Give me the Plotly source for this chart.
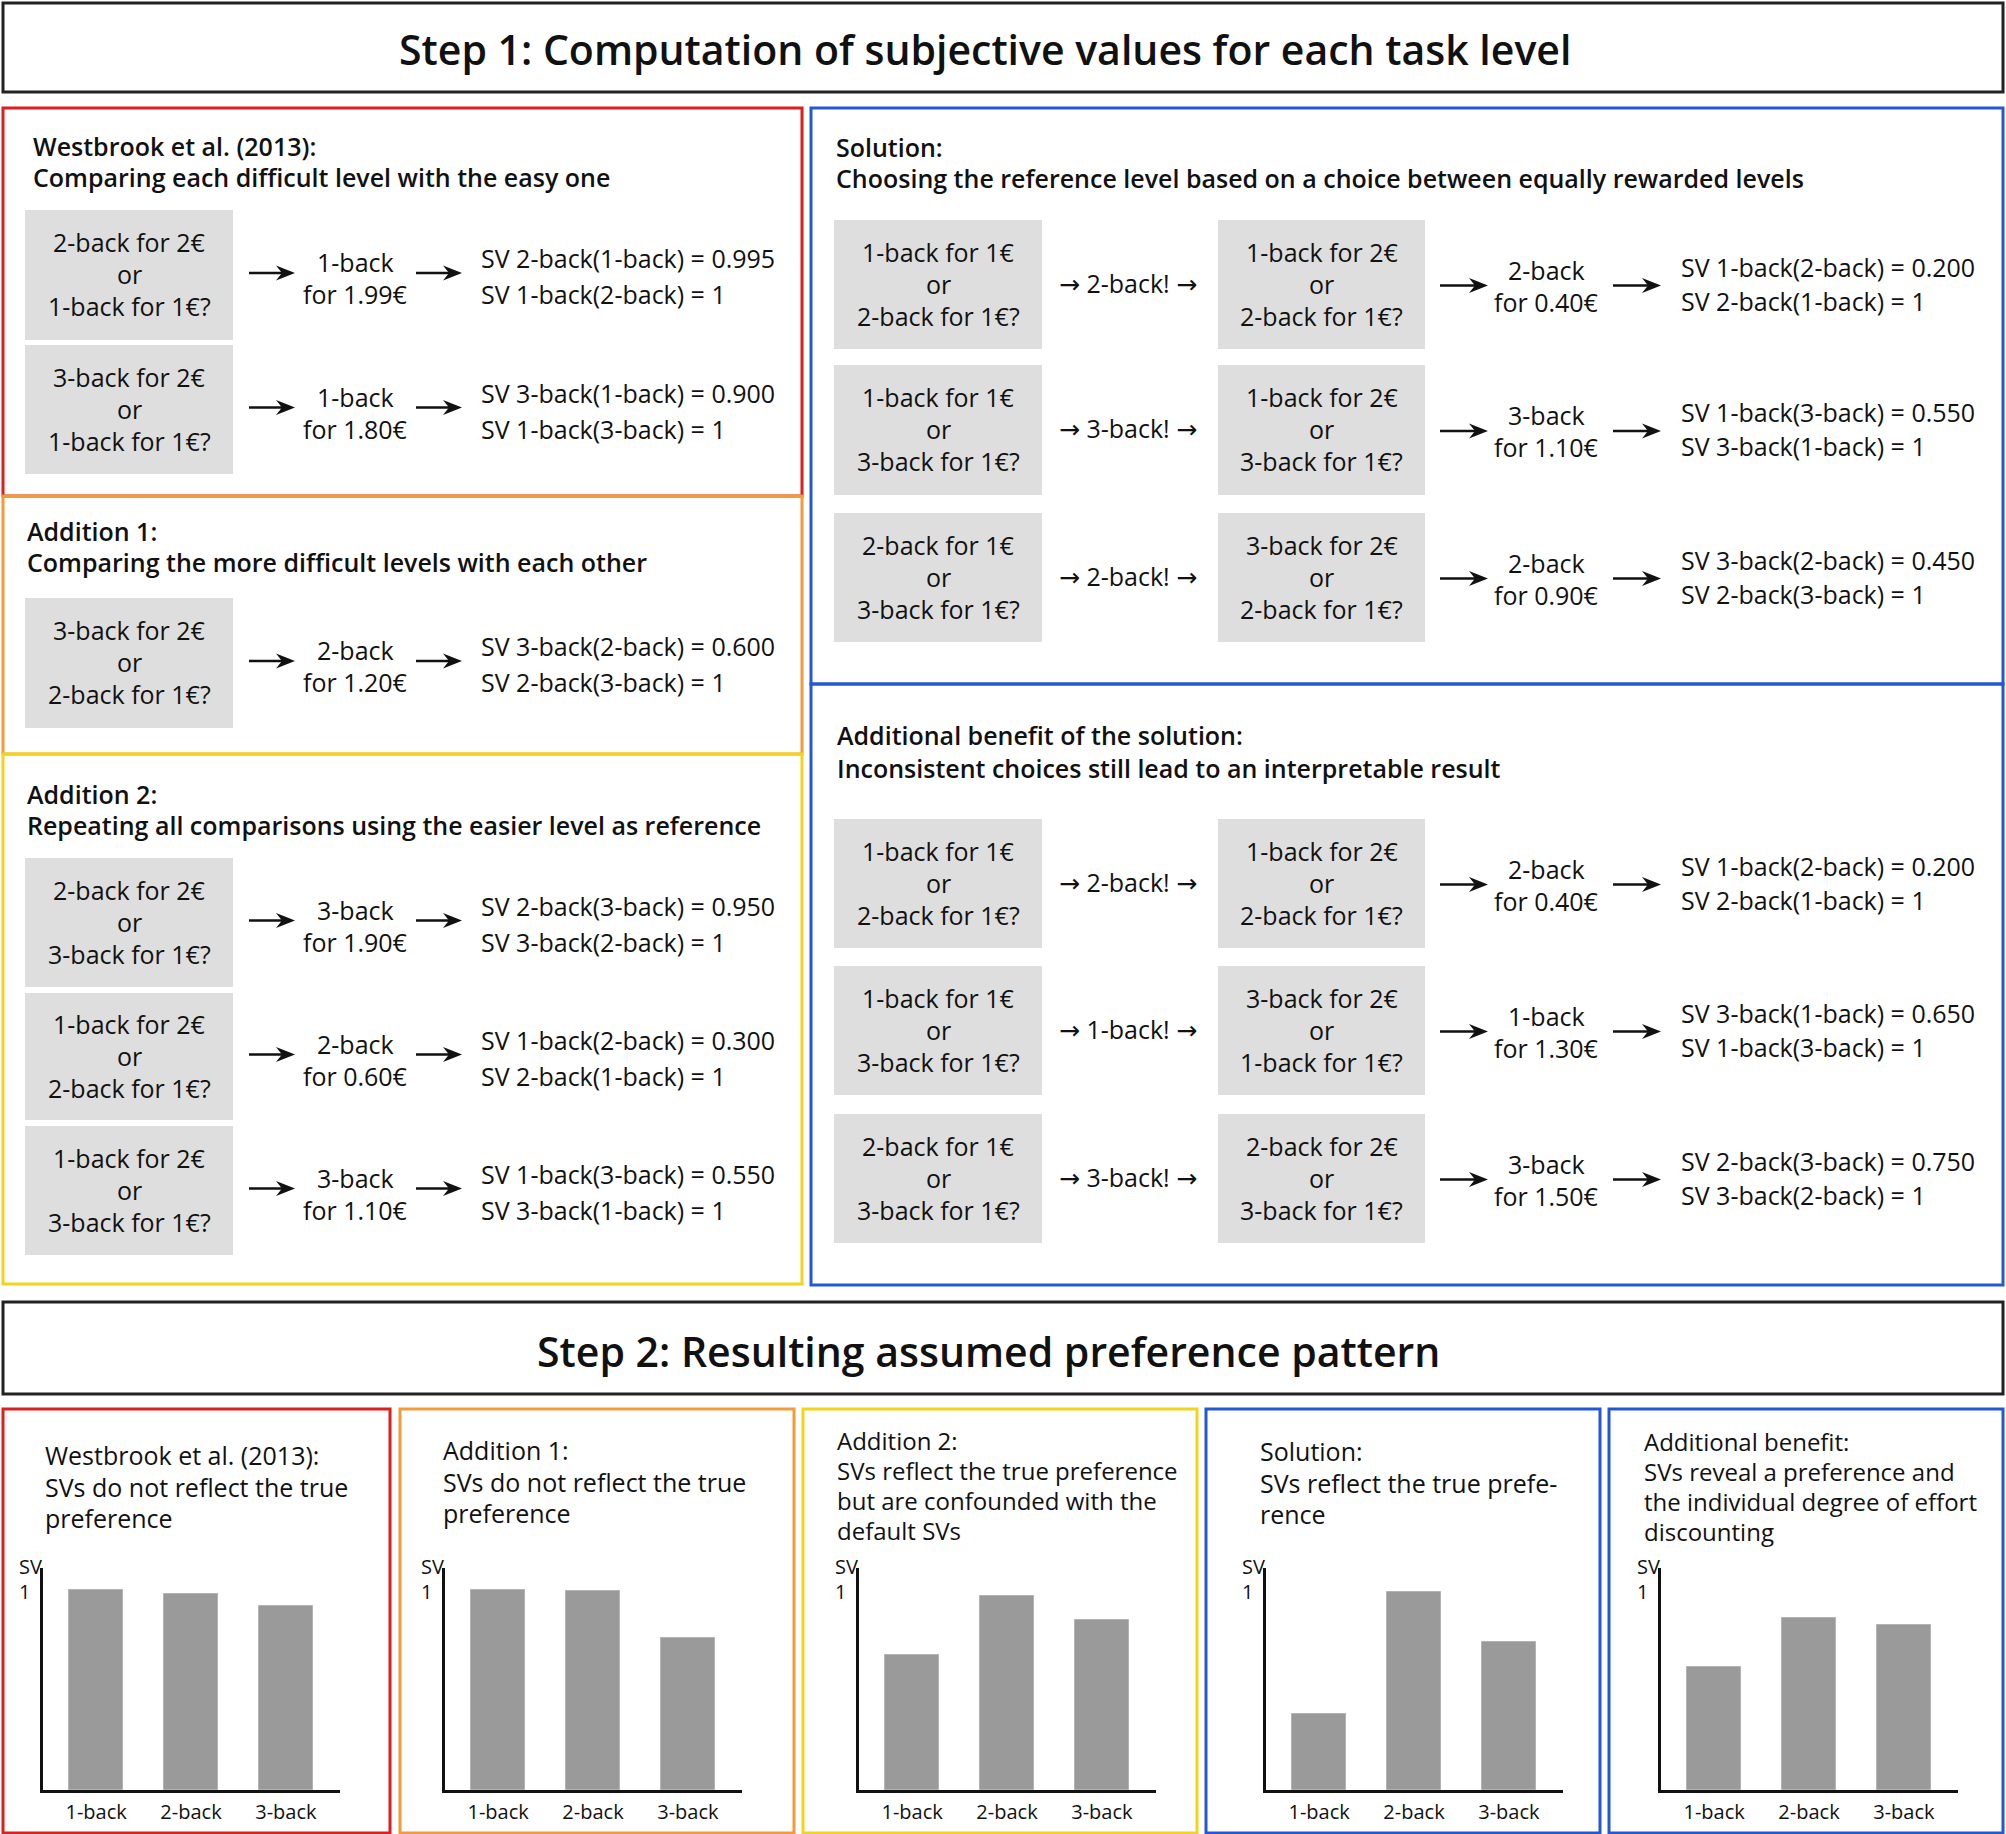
import plotly.graph_objects as go

W, H = 2006, 1834

# ------------------------------------------------------------------ data
levels = ["1-back", "2-back", "3-back"]

step1_title = "Step 1: Computation of subjective values for each task level"
step2_title = "Step 2: Resulting assumed preference pattern"

section_headers = [
    ["Westbrook et al. (2013):", "Comparing each difficult level with the easy one"],
    ["Addition 1:", "Comparing the more difficult levels with each other"],
    ["Addition 2:", "Repeating all comparisons using the easier level as reference"],
    ["Solution:", "Choosing the reference level based on a choice between equally rewarded levels"],
    ["Additional benefit of the solution:", "Inconsistent choices still lead to an interpretable result"],
]

# left column rows: question, result, subjective values
left_questions = [
    ["2-back for 2€", "or", "1-back for 1€?"],
    ["3-back for 2€", "or", "1-back for 1€?"],
    ["3-back for 2€", "or", "2-back for 1€?"],
    ["2-back for 2€", "or", "3-back for 1€?"],
    ["1-back for 2€", "or", "2-back for 1€?"],
    ["1-back for 2€", "or", "3-back for 1€?"],
]
left_results = [
    ["1-back", "for 1.99€"], ["1-back", "for 1.80€"], ["2-back", "for 1.20€"],
    ["3-back", "for 1.90€"], ["2-back", "for 0.60€"], ["3-back", "for 1.10€"],
]
left_svs = [
    ["SV 2-back(1-back) = 0.995", "SV 1-back(2-back) = 1"],
    ["SV 3-back(1-back) = 0.900", "SV 1-back(3-back) = 1"],
    ["SV 3-back(2-back) = 0.600", "SV 2-back(3-back) = 1"],
    ["SV 2-back(3-back) = 0.950", "SV 3-back(2-back) = 1"],
    ["SV 1-back(2-back) = 0.300", "SV 2-back(1-back) = 1"],
    ["SV 1-back(3-back) = 0.550", "SV 3-back(1-back) = 1"],
]

# right column rows
right_first_questions = [
    ["1-back for 1€", "or", "2-back for 1€?"],
    ["1-back for 1€", "or", "3-back for 1€?"],
    ["2-back for 1€", "or", "3-back for 1€?"],
    ["1-back for 1€", "or", "2-back for 1€?"],
    ["1-back for 1€", "or", "3-back for 1€?"],
    ["2-back for 1€", "or", "3-back for 1€?"],
]
right_choices = ["2-back!", "3-back!", "2-back!", "2-back!", "1-back!", "3-back!"]
right_second_questions = [
    ["1-back for 2€", "or", "2-back for 1€?"],
    ["1-back for 2€", "or", "3-back for 1€?"],
    ["3-back for 2€", "or", "2-back for 1€?"],
    ["1-back for 2€", "or", "2-back for 1€?"],
    ["3-back for 2€", "or", "1-back for 1€?"],
    ["2-back for 2€", "or", "3-back for 1€?"],
]
right_results = [
    ["2-back", "for 0.40€"], ["3-back", "for 1.10€"], ["2-back", "for 0.90€"],
    ["2-back", "for 0.40€"], ["1-back", "for 1.30€"], ["3-back", "for 1.50€"],
]
right_svs = [
    ["SV 1-back(2-back) = 0.200", "SV 2-back(1-back) = 1"],
    ["SV 1-back(3-back) = 0.550", "SV 3-back(1-back) = 1"],
    ["SV 3-back(2-back) = 0.450", "SV 2-back(3-back) = 1"],
    ["SV 1-back(2-back) = 0.200", "SV 2-back(1-back) = 1"],
    ["SV 3-back(1-back) = 0.650", "SV 1-back(3-back) = 1"],
    ["SV 2-back(3-back) = 0.750", "SV 3-back(2-back) = 1"],
]

# Step 2 panels
panel_titles = [
    ["Westbrook et al. (2013):", "SVs do not reflect the true", "preference"],
    ["Addition 1:", "SVs do not reflect the true", "preference"],
    ["Addition 2:", "SVs reflect the true preference", "but are confounded with the", "default SVs"],
    ["Solution:", "SVs reflect the true prefe-", "rence"],
    ["Additional benefit:", "SVs reveal a preference and", "the individual degree of effort", "discounting"],
]
sv_westbrook = [1.0, 0.98, 0.92]
sv_addition1 = [1.0, 0.995, 0.76]
sv_addition2 = [0.675, 0.97, 0.85]
sv_solution = [0.38, 0.99, 0.74]
sv_benefit = [0.615, 0.86, 0.825]
panel_values = [sv_westbrook, sv_addition1, sv_addition2, sv_solution, sv_benefit]

# ------------------------------------------------------------------ styles / layout constants
RED, ORANGE, YELLOW, BLUE = "#dc1f1f", "#f39a3a", "#f2d31e", "#2257d8"
BOXGRAY, BARGRAY, INK = "#dedede", "#9a9a9a", "#111111"
FONT = "Open Sans"
FS = 25

shapes, annotations = [], []


def rect(x0, y0, x1, y1, line=None, fill=None, lw=3, layer="above"):
    shapes.append(dict(type="rect", xref="x", yref="y", x0=x0, y0=y0, x1=x1, y1=y1,
                       line=dict(color=line or "rgba(0,0,0,0)", width=lw if line else 0),
                       fillcolor=fill or "rgba(0,0,0,0)", layer=layer))


def text(x, y, s, size=FS, anchor="center", weight=400):
    annotations.append(dict(x=x, y=y, xref="x", yref="y", text=s, showarrow=False,
                            xanchor=anchor, yanchor="middle",
                            font=dict(family=FONT, size=size, color=INK, weight=weight)))


def arrow(x0, x1, y):
    shapes.append(dict(type="line", xref="x", yref="y", x0=x0, x1=x1 - 10, y0=y, y1=y,
                       line=dict(color=INK, width=2.5)))
    shapes.append(dict(type="path", xref="x", yref="y",
                       path=f"M {x1},{y} L {x1-19},{y-7.5} L {x1-13},{y} L {x1-19},{y+7.5} Z",
                       fillcolor=INK, line=dict(width=0)))


def question(x0, x1, y0, y1, lines):
    rect(x0, y0, x1, y1, fill=BOXGRAY, layer="below")
    cx, cy = (x0 + x1) / 2, (y0 + y1) / 2
    for i, s in enumerate(lines):
        text(cx, cy - 1 + (i - 1) * 32, s)


ARR = '<span style="font-family:DejaVu Sans">→</span>'

# Step title boxes
rect(3, 3, 2003, 92, line="#222222")
text(985, 49, step1_title, size=41, weight=600)
rect(3, 1302, 2003, 1394, line="#222222")
text(988, 1351, step2_title, size=41, weight=600)

# Step 1 section boxes
rect(3, 108, 802, 496, line=RED)
rect(3, 496, 802, 754, line=ORANGE)
rect(3, 754, 802, 1284, line=YELLOW)
rect(811, 108, 2003, 684, line=BLUE)
rect(811, 684, 2003, 1285, line=BLUE)

header_pos = [(31, 146, 177), (25, 531, 562), (25, 794, 825), (834, 147, 178), (835, 735, 768)]
for (hx, y1, y2), lines in zip(header_pos, section_headers):
    text(hx, y1, lines[0], anchor="left", weight=600)
    text(hx, y2, lines[1], anchor="left", weight=600)

# left rows
left_rows = [(210, 340), (345, 474), (598, 728), (858, 987), (993, 1120), (1126, 1255)]
for (y0, y1), q, r, sv in zip(left_rows, left_questions, left_results, left_svs):
    cy = (y0 + y1) / 2
    question(25, 233, y0, y1, q)
    arrow(249, 295, cy - 2)
    text(355, cy + 3 - 16, r[0])
    text(355, cy + 3 + 16, r[1])
    arrow(416, 462, cy - 2)
    text(479, cy + 1 - 18, sv[0], anchor="left")
    text(479, cy + 1 + 18, sv[1], anchor="left")

# right rows
right_rows = [(220, 349), (365, 495), (513, 642), (819, 948), (966, 1095), (1114, 1243)]
for (y0, y1), q1, ch, q2, r, sv in zip(right_rows, right_first_questions, right_choices,
                                       right_second_questions, right_results, right_svs):
    cy = (y0 + y1) / 2
    question(834, 1042, y0, y1, q1)
    text(1128, cy - 2, f"{ARR} {ch} {ARR}")
    question(1218, 1425, y0, y1, q2)
    arrow(1440, 1488, cy + 1)
    text(1546, cy + 1 - 16, r[0])
    text(1546, cy + 1 + 16, r[1])
    arrow(1613, 1661, cy + 1)
    text(1679, cy - 1 - 17, sv[0], anchor="left")
    text(1679, cy - 1 + 17, sv[1], anchor="left")

# ------------------------------------------------------------------ Step 2 panels
panel_x = [(3, 390), (400, 794), (803, 1197), (1206, 1600), (1609, 2003)]
panel_colors = [RED, ORANGE, YELLOW, BLUE, BLUE]
axis_left = [43, 445, 859, 1266, 1661]
title_tops = [1455, 1450, 1440, 1451, 1441]
title_x_off = [40, 41, 32, 52, 33]
title_sizes = [25, 25, 24, 25, 24]
AX_LEN = 297
Y_TOP, Y_BASE = 1568, 1790

fig = go.Figure()
layout_axes = {}
for k, (px, col, axl, vals, tl, tt, tx, ts) in enumerate(
        zip(panel_x, panel_colors, axis_left, panel_values, panel_titles, title_tops,
            title_x_off, title_sizes)):
    rect(px[0], 1409, px[1], 1833, line=col)
    step = 31.5 if len(tl) == 3 else 30
    for i, s in enumerate(tl):
        text(px[0] + tx, tt + i * step, s, size=ts, anchor="left")
    text(axl - 26, 1566, "SV", size=20, anchor="left")
    text(axl - 26, 1591, "1", size=20, anchor="left")

    n = k + 2
    fig.add_trace(go.Bar(x=levels, y=vals, width=0.57, xaxis=f"x{n}", yaxis=f"y{n}",
                         marker=dict(color=BARGRAY, line=dict(color="#b3b3b3", width=1)),
                         showlegend=False, hoverinfo="skip"))
    layout_axes[f"xaxis{n}"] = dict(domain=[axl / W, (axl + AX_LEN) / W], anchor=f"y{n}",
                                    range=[-0.56, 2.57], showline=True, linecolor=INK, linewidth=3,
                                    showgrid=False, zeroline=False, ticks="",
                                    tickfont=dict(family=FONT, size=20, color=INK),
                                    ticklabelstandoff=2, fixedrange=True)
    layout_axes[f"yaxis{n}"] = dict(domain=[1 - Y_BASE / H, 1 - Y_TOP / H], anchor=f"x{n}",
                                    range=[0, (Y_BASE - Y_TOP) / 200], showline=True, linecolor=INK,
                                    linewidth=3, showgrid=False, zeroline=False,
                                    showticklabels=False, ticks="", fixedrange=True)

fig.update_layout(
    width=W, height=H, autosize=False,
    margin=dict(l=0, r=0, t=0, b=0, pad=0),
    paper_bgcolor="white", plot_bgcolor="rgba(0,0,0,0)",
    xaxis=dict(domain=[0, 1], range=[0, W], visible=False, fixedrange=True),
    yaxis=dict(domain=[0, 1], range=[H, 0], visible=False, fixedrange=True),
    shapes=shapes, annotations=annotations,
    bargap=0, showlegend=False,
    **layout_axes,
)

fig.write_html("out.html", config={"displayModeBar": False},
               post_script="document.body.style.margin='0px';document.body.style.overflow='hidden';")
